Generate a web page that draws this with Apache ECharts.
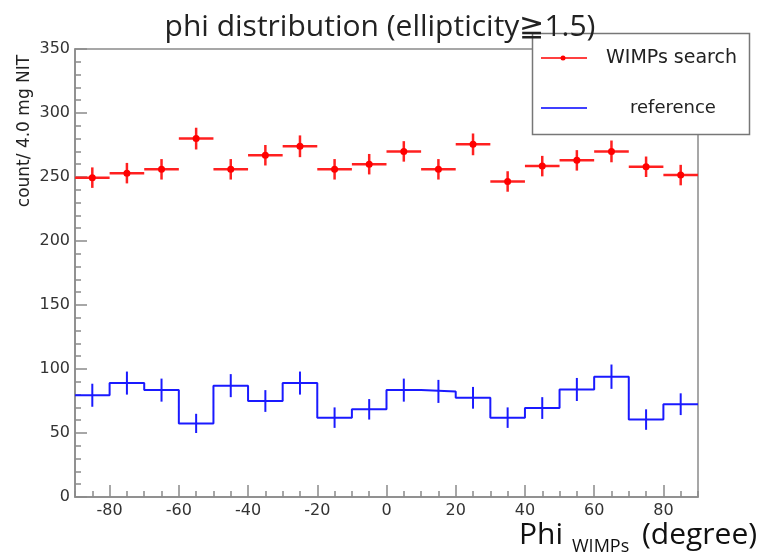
<!DOCTYPE html>
<html>
<head>
<meta charset="utf-8">
<script src="https://cdn.jsdelivr.net/npm/echarts@6/dist/echarts.min.js"></script>
<style>html,body{margin:0;padding:0;background:#fff}#c{width:761px;height:553px}</style>
</head>
<body>
<div id="c"></div>
<script>
// bin centers (degree)
var binCenters = [-85,-75,-65,-55,-45,-35,-25,-15,-5,5,15,25,35,45,55,65,75,85];
var binHalfWidth = 5;
// WIMPs search (red points)
var wimpsValues = [249.5,253,256,280,256,267,274,256,260,270,256,275.5,246.5,258.5,263,270,258,251.5];
var wimpsErrors = [8,8,8,8.5,8,8,8.5,8,8,8,8,8.5,8,8,8,8.5,8,8];
// reference (blue histogram)
var refValues = [79.5,89,83.5,57.5,87,75,89,62,68.5,83.5,82.5,77.5,62,69.5,84,94,60.5,72.5];
var refErrors = [9,9,9,7.5,9,8.5,9,8,8,9,9,8.5,8,8.5,9,9.5,8,8.5];
// ticks
var xTickLabels = [-80,-60,-40,-20,0,20,40,60,80];
var xMinorTicks = [-90,-85,-80,-75,-70,-65,-60,-55,-50,-45,-40,-35,-30,-25,-20,-15,-10,-5,0,5,10,15,20,25,30,35,40,45,50,55,60,65,70,75,80,85,90];

var chart = echarts.init(document.getElementById('c'), null, {renderer:'canvas'});

var stepData = binCenters.map(function(c,i){return [c-binHalfWidth, refValues[i]];});
stepData.push([binCenters[binCenters.length-1]+binHalfWidth, refValues[refValues.length-1]]);

var axisCol = '#8a8a8a';
var labelFont = {fontFamily:'DejaVu Sans', fontSize:16, color:'#333'};

chart.setOption({
  animation:false,
  backgroundColor:'#fff',
  grid:{left:75, right:63, top:49, bottom:56, show:true, borderColor:axisCol, borderWidth:1.5},
  xAxis:[{
    type:'value', min:-90, max:90, position:'bottom',
    axisLine:{show:true, onZero:false, lineStyle:{color:axisCol, width:1.5}},
    axisTick:{show:true, inside:true, length:12, customValues:xTickLabels, lineStyle:{color:axisCol, width:1.5}},
    axisLabel:Object.assign({customValues:xTickLabels, margin:6}, labelFont),
    splitLine:{show:false}
  },{
    type:'value', min:-90, max:90, position:'bottom',
    axisLine:{show:false, onZero:false},
    axisTick:{show:true, inside:true, length:6, customValues:xMinorTicks, lineStyle:{color:axisCol, width:1.5}},
    axisLabel:{show:false},
    splitLine:{show:false}
  }],
  yAxis:{
    type:'value', min:0, max:350, interval:50,
    axisLine:{show:true, onZero:false, lineStyle:{color:axisCol, width:1.5}},
    axisTick:{show:true, inside:true, length:12, lineStyle:{color:axisCol, width:1.5}},
    minorTick:{show:true, splitNumber:5, length:6, lineStyle:{color:axisCol, width:1.5}},
    axisLabel:Object.assign({margin:5}, labelFont),
    splitLine:{show:false}
  },
  series:[{
    type:'line', step:'end', data:stepData, symbol:'none',
    lineStyle:{color:'#1a1aff', width:2}, z:3
  },{
    type:'custom',
    data:binCenters.map(function(c,i){return [c, refValues[i], refErrors[i]];}),
    renderItem:function(params, api){
      var x = api.value(0), y = api.value(1), e = api.value(2);
      var p1 = api.coord([x, y-e]), p2 = api.coord([x, y+e]);
      return {type:'line', shape:{x1:p1[0], y1:p1[1], x2:p2[0], y2:p2[1]}, style:{stroke:'#1a1aff', lineWidth:2}};
    }, z:4
  },{
    type:'custom',
    data:binCenters.map(function(c,i){return [c, wimpsValues[i], wimpsErrors[i]];}),
    renderItem:function(params, api){
      var x = api.value(0), y = api.value(1), e = api.value(2);
      var l = api.coord([x-binHalfWidth, y]), r = api.coord([x+binHalfWidth, y]);
      var t = api.coord([x, y+e]), b = api.coord([x, y-e]);
      var c = api.coord([x, y]);
      return {type:'group', children:[
        {type:'line', shape:{x1:l[0], y1:l[1], x2:r[0], y2:r[1]}, style:{stroke:'#ff2020', lineWidth:2.5}},
        {type:'line', shape:{x1:t[0], y1:t[1], x2:b[0], y2:b[1]}, style:{stroke:'#ff2020', lineWidth:2.5}},
        {type:'circle', shape:{cx:c[0], cy:c[1], r:3.5}, style:{fill:'#ff0000'}}
      ]};
    }, z:5
  }],
  graphic:[
    {type:'rect', shape:{x:532.5, y:33.5, width:217, height:101}, style:{fill:'#fff', stroke:'#777', lineWidth:1.5}, z:20},
    {type:'text', x:380, y:42, z:30, style:{text:'phi distribution (ellipticity\u22671.5)', font:'30px "Open Sans"', fill:'#222', align:'center', verticalAlign:'bottom'}},
    {type:'text', x:25, y:131, rotation:Math.PI/2, z:10, style:{text:'count/ 4.0 mg NIT', font:'17px "DejaVu Sans"', fill:'#222', align:'center', verticalAlign:'middle'}},
    {type:'line', shape:{x1:541, y1:58, x2:587, y2:58}, style:{stroke:'#ff0000', lineWidth:1.5}, z:21},
    {type:'circle', shape:{cx:563, cy:58, r:2.5}, style:{fill:'#ff0000'}, z:21},
    {type:'text', x:606, y:58, z:21, style:{text:'WIMPs search', font:'19px "DejaVu Sans"', fill:'#222', verticalAlign:'middle'}},
    {type:'line', shape:{x1:541, y1:108, x2:587, y2:108}, style:{stroke:'#0000ff', lineWidth:1.5}, z:21},
    {type:'text', x:630, y:108, z:21, style:{text:'reference', font:'18px "DejaVu Sans"', fill:'#222', verticalAlign:'middle'}},
    {type:'text', x:519, y:550, z:10, style:{text:'Phi', font:'30px "Open Sans"', fill:'#111', verticalAlign:'bottom'}},
    {type:'text', x:572, y:556, z:10, style:{text:'WIMPs', font:'18px "Open Sans"', fill:'#111', verticalAlign:'bottom'}},
    {type:'text', x:642, y:550, z:10, style:{text:'(degree)', font:'30px "Open Sans"', fill:'#111', verticalAlign:'bottom'}}
  ]
});
</script>
</body>
</html>
